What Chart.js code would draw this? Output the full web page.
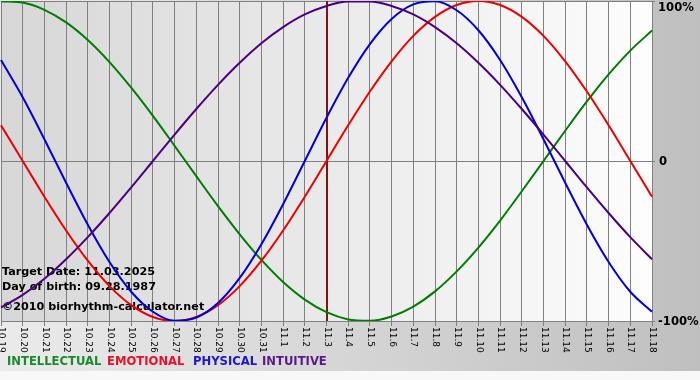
<!DOCTYPE html>
<html>
<head>
<meta charset="utf-8">
<script src="https://cdn.jsdelivr.net/npm/chart.js@4.4.1/dist/chart.umd.min.js"></script>
<style>
html,body{margin:0;padding:0;background:#f8f8f8;}
#wrap{width:700px;height:380px;position:relative;}
</style>
</head>
<body>
<div id="wrap"><canvas id="c" width="700" height="380"></canvas></div>
<script>
const days = ["10.19","10.20","10.21","10.22","10.23","10.24","10.25","10.26","10.27","10.28","10.29","10.30","10.31","11.1","11.2","11.3","11.4","11.5","11.6","11.7","11.8","11.9","11.10","11.11","11.12","11.13","11.14","11.15","11.16","11.17","11.18"];
const intellectual = [99.9,99.0,94.5,86.6,75.6,61.8,45.8,28.2,9.5,-9.5,-28.2,-45.8,-61.8,-75.6,-86.6,-94.5,-99.0,-99.9,-97.2,-91.0,-81.5,-69.0,-54.1,-37.2,-18.9,0,18.9,37.2,54.1,69.0,81.5];
const emotional = [22.3,0,-22.3,-43.4,-62.3,-78.2,-90.1,-97.5,-100,-97.5,-90.1,-78.2,-62.3,-43.4,-22.3,0,22.3,43.4,62.3,78.2,90.1,97.5,100,97.5,90.1,78.2,62.3,43.4,22.3,0,-22.3];
const physical = [63.1,39.8,13.6,-13.6,-39.8,-63.1,-81.7,-94.2,-99.8,-97.9,-88.8,-73.1,-52.0,-27.0,0,27.0,52.0,73.1,88.8,97.9,99.8,94.2,81.7,63.1,39.8,13.6,-13.6,-39.8,-63.1,-81.7,-94.2];
const intuitive = [-91.6,-83.7,-73.6,-61.4,-47.6,-32.5,-16.5,0,16.5,32.5,47.6,61.4,73.6,83.7,91.6,96.9,99.7,99.7,96.9,91.6,83.7,73.6,61.4,47.6,32.5,16.5,0,-16.5,-32.5,-47.6,-61.4];
const yTicks = [100, 0, -100];
const yTickLabels = ["100%", "0", "-100%"];
const targetDay = "11.3";
const infoLines = ["Target Date: 11.03.2025", "Day of birth: 09.28.1987", "\u00A92010 biorhythm-calculator.net"];
const legendNames = ["INTELLECTUAL", "EMOTIONAL", "PHYSICAL", "INTUITIVE"];

const colors = ["#007d00", "#ee0000", "#0000d8", "#4b0082"];
const legendColors = ["#1a8a2a", "#e8102a", "#1a1acc", "#5a1a8a"];

const bgPlugin = {
  id: 'bg',
  beforeDraw(chart) {
    const ctx = chart.ctx, a = chart.chartArea;
    ctx.save();
    ctx.fillStyle = '#f8f8f8';
    ctx.fillRect(0, 0, 700, 380);
    let g = ctx.createLinearGradient(0, 0, 700, 0);
    g.addColorStop(0, '#ebebeb');
    g.addColorStop(1, '#bfbfbf');
    ctx.fillStyle = g;
    ctx.fillRect(0, 0, 700, 371);
    g = ctx.createLinearGradient(a.left, 0, a.right, 0);
    g.addColorStop(0, '#d7d7d7');
    g.addColorStop(1, '#fdfdfd');
    ctx.fillStyle = g;
    ctx.fillRect(a.left, a.top, a.right - a.left, a.bottom - a.top);
    ctx.restore();
  },
  beforeDatasetsDraw(chart) {
    const ctx = chart.ctx, a = chart.chartArea;
    const xs = chart.scales.x;
    ctx.save();
    const tx = Math.round(xs.getPixelForValue(days.indexOf(targetDay)));
    ctx.strokeStyle = '#7e1414';
    ctx.lineWidth = 2;
    ctx.beginPath();
    ctx.moveTo(tx, a.top);
    ctx.lineTo(tx, a.bottom);
    ctx.stroke();
    ctx.fillStyle = '#000';
    ctx.font = 'bold 11.2px "DejaVu Sans"';
    ctx.textBaseline = 'middle';
    ctx.textAlign = 'left';
    const ys = [272, 287, 307];
    infoLines.forEach((t, i) => ctx.fillText(t, 2, ys[i]));
    ctx.restore();
  },
  afterDraw(chart) {
    const ctx = chart.ctx, a = chart.chartArea;
    const xs = chart.scales.x, ysc = chart.scales.y;
    ctx.save();
    ctx.fillStyle = '#000';
    ctx.font = '9px "DejaVu Sans"';
    ctx.textAlign = 'left';
    ctx.textBaseline = 'middle';
    days.forEach((d, i) => {
      const x = xs.getPixelForValue(i);
      ctx.save();
      ctx.translate(x + 0.5, a.bottom + 6);
      ctx.rotate(Math.PI / 2);
      ctx.fillText(d, 0, 0);
      ctx.restore();
    });
    ctx.font = 'bold 11.6px "DejaVu Sans"';
    yTicks.forEach((v, i) => {
      let y = ysc.getPixelForValue(v);
      if (i === 0) y = 7;
      ctx.fillText(yTickLabels[i], i === 1 ? 659 : 658, y + 1);
    });
    ctx.font = 'bold 11.6px "DejaVu Sans"';
    const lxs = [7, 107, 193, 262];
    legendNames.forEach((n, i) => {
      ctx.fillStyle = legendColors[i];
      ctx.fillText(n, lxs[i], 362);
    });
    ctx.restore();
  }
};

const mk = (label, data, color) => ({
  label, data, borderColor: color, borderWidth: 2, pointRadius: 0,
  cubicInterpolationMode: 'monotone', fill: false
});

new Chart(document.getElementById('c'), {
  type: 'line',
  data: {
    labels: days,
    datasets: [
      mk(legendNames[3], intuitive, colors[3]),
      mk(legendNames[2], physical, colors[2]),
      mk(legendNames[1], emotional, colors[1]),
      mk(legendNames[0], intellectual, colors[0])
    ]
  },
  plugins: [bgPlugin],
  options: {
    responsive: false,
    animation: false,
    devicePixelRatio: 1,
    layout: { padding: { left: 1, top: 1, right: 0, bottom: 0 } },
    plugins: { legend: { display: false }, tooltip: { enabled: false } },
    scales: {
      x: {
        offset: false,
        grid: { color: '#808080', lineWidth: 1, tickLength: 5, drawTicks: true },
        border: { color: '#808080' },
        ticks: { display: false, autoSkip: false },
        afterFit(s) { s.height = 59; }
      },
      y: {
        position: 'right',
        min: -100, max: 100,
        grid: { color: '#808080', lineWidth: 1, tickLength: 3 },
        border: { display: false },
        ticks: { display: false, stepSize: 100 },
        afterFit(s) { s.width = 48; }
      }
    }
  }
});
</script>
</body>
</html>
